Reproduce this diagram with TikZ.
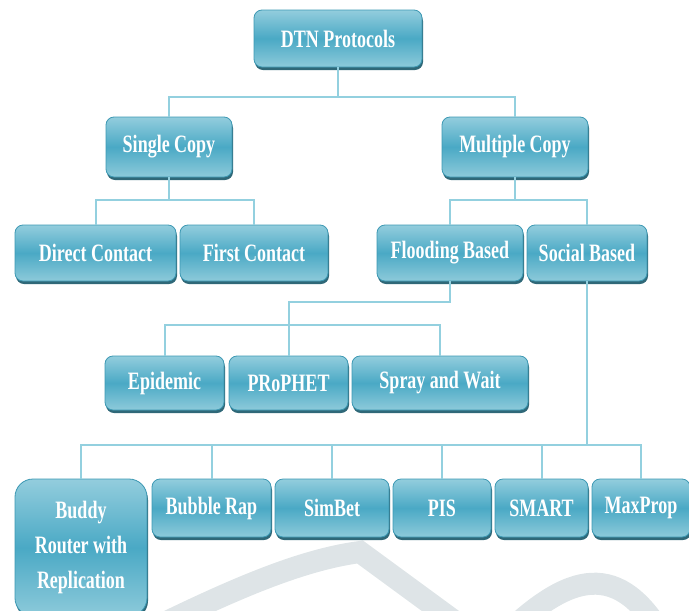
\documentclass[tikz,border=0pt]{standalone}
\usepackage{fontspec}
\usetikzlibrary{shadows}
\newfontfamily\protofont{Liberation Serif}[FakeStretch=0.72]

\definecolor{boxtop}{HTML}{93CDDD}
\definecolor{boxmid}{HTML}{4AA9C5}
\definecolor{boxbot}{HTML}{8DCADA}
\definecolor{boxline}{HTML}{3C98B3}
\definecolor{boxshadow}{HTML}{2F6878}
\definecolor{linkc}{HTML}{93D0DF}
\definecolor{markc}{HTML}{DEE4E7}

\tikzset{
  proto/.style={draw=boxline, line width=0.8pt, rounded corners=8pt,
    top color=boxtop, bottom color=boxbot, middle color=boxmid,
    drop shadow={shadow xshift=1pt, shadow yshift=-3pt, fill=boxshadow, opacity=1},
    text=white, inner sep=0pt, align=center,
    font=\protofont\bfseries\fontsize{25}{35}\selectfont},
  link/.style={draw=linkc, line width=2pt},
}

\begin{document}
\begin{tikzpicture}[x=1pt,y=-1pt]
  \useasboundingbox (0,0) rectangle (689,611);
  % watermark behind everything
  \draw[markc, line width=22pt] (130,640) .. controls (230,590) and (300,560) .. (360,552) -- (480,640);
  \draw[markc, line width=22pt] (500,640) .. controls (570,570) and (620,560) .. (665,640);

  % levels
  \node[proto, minimum width=168pt, minimum height=57pt] (dtn) at (338,38.5) {DTN Protocols};
  \node[proto, minimum width=126pt, minimum height=60pt] (sc) at (169,147) {Single Copy};
  \node[proto, minimum width=146pt, minimum height=60pt] (mc) at (515,147) {Multiple Copy};

  \node[proto, minimum width=161pt, minimum height=56pt] (dc) at (95.5,253) {Direct Contact};
  \node[proto, minimum width=148pt, minimum height=56pt] (fc) at (254,253) {First Contact};
  \node[proto, minimum width=146pt, minimum height=56pt] (fb) at (450,253) {Flooding Based};
  \node[proto, minimum width=120pt, minimum height=56pt] (sb) at (587,253) {Social Based};

  \node[proto, minimum width=119pt, minimum height=54pt] (ep) at (164.5,383) {Epidemic};
  \node[proto, minimum width=119pt, minimum height=54pt] (pr) at (288.5,383) {PRoPHET};
  \node[proto, minimum width=176pt, minimum height=54pt] (sw) at (440,383) {Spray and Wait};

  \node[proto, rounded corners=18pt, minimum width=132pt, minimum height=137pt] (bu) at (81,547.5) {Buddy\\Router with\\Replication};
  \node[proto, minimum width=119pt, minimum height=58pt] (br) at (211.5,508) {Bubble Rap};
  \node[proto, minimum width=114pt, minimum height=58pt] (si) at (332,508) {SimBet};
  \node[proto, minimum width=98pt, minimum height=58pt] (pi) at (442,508) {PIS};
  \node[proto, minimum width=93pt, minimum height=58pt] (sm) at (541.5,508) {SMART};
  \node[proto, minimum width=98pt, minimum height=58pt] (mp) at (641,508) {MaxProp};

  % connectors
  \draw[link] (dtn.south) -- ++(0,30);
  \draw[link] (sc.north) -- ++(0,-20) -| (mc.north);
  \draw[link] (sc.south) -- ++(0,23);
  \draw[link] (dc.north) -- ++(0,-25) -| (fc.north);
  \draw[link] (mc.south) -- ++(0,23);
  \draw[link] (fb.north) -- ++(0,-25) -| (sb.north);
  \draw[link] (fb.south) -- ++(0,21) -| (pr.north);
  \draw[link] (ep.north) -- ++(0,-31) -| (sw.north);
  \draw[link] (sb.south) -- ++(0,164);
  \draw[link] (bu.north) -- ++(0,-34) -| (mp.north);
  \foreach \n in {br,si,pi,sm}
    \draw[link] (\n.north) -- ++(0,-34);
\end{tikzpicture}
\end{document}
